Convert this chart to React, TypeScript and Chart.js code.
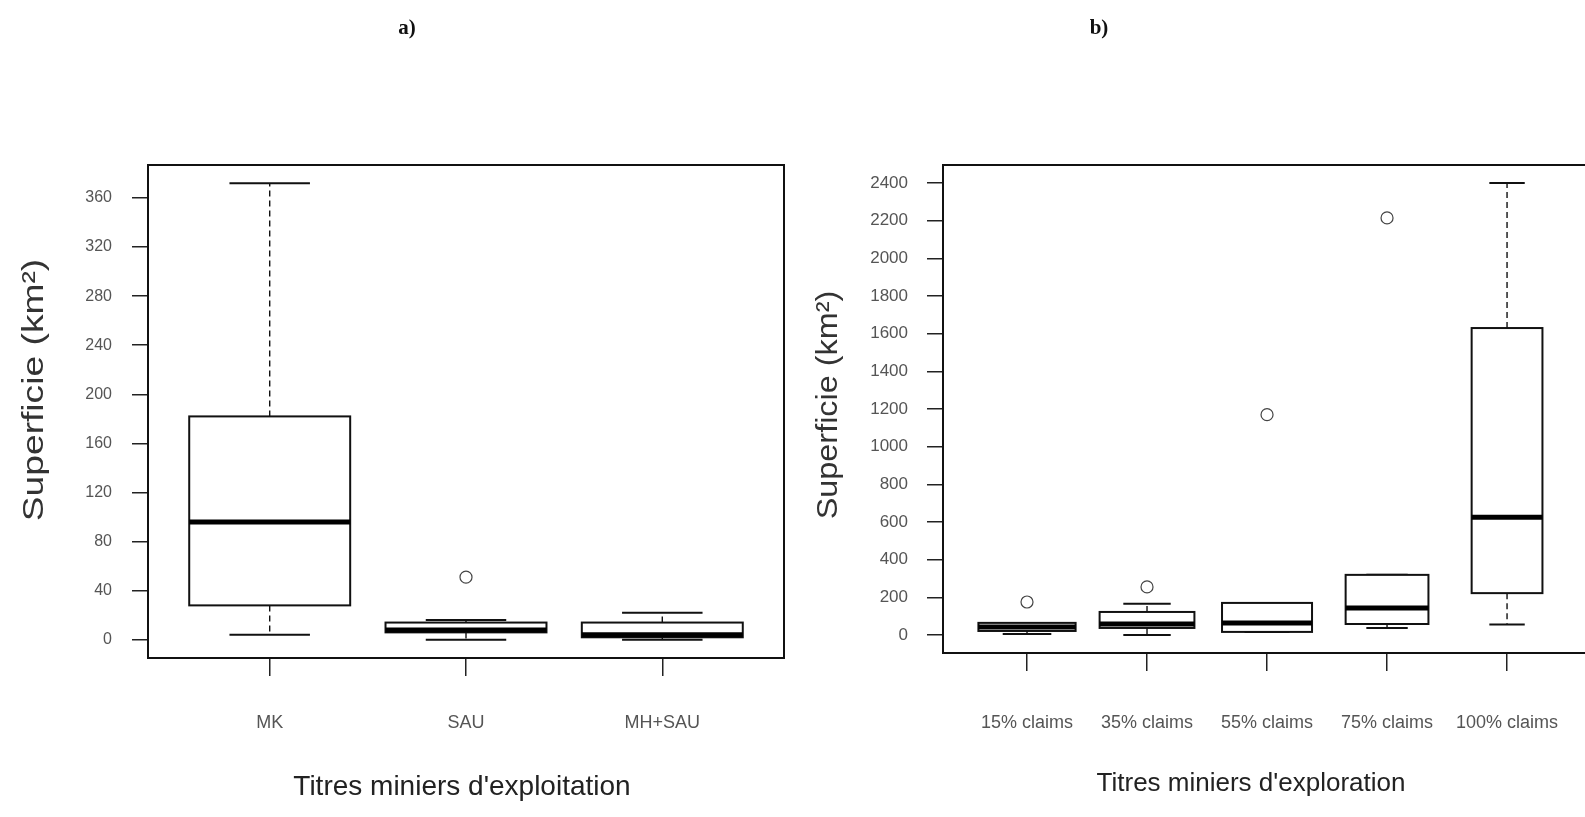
import React, { useEffect, useRef } from 'react';
import { Chart, registerables } from 'chart.js';

Chart.register(...registerables);

// ---------- Panel a) : Titres miniers d'exploitation ----------
const catsA = ['MK', 'SAU', 'MH+SAU'];
const lowA = [4, 0, 0];
const q1A = [28, 6, 2];
const medA = [96, 8, 4];
const q3A = [182, 14, 14];
const highA = [372, 16, 22];
const outliersA = [[], [51], []];
const ticksA = [0, 40, 80, 120, 160, 200, 240, 280, 320, 360];

// ---------- Panel b) : Titres miniers d'exploration ----------
const catsB = ['15% claims', '35% claims', '55% claims', '75% claims', '100% claims'];
const lowB = [5, 0, 16, 37, 55];
const q1B = [21, 37, 16, 58, 222];
const medB = [42, 58, 64, 143, 625];
const q3B = [64, 122, 170, 319, 1630];
const highB = [64, 165, 170, 319, 2400];
const outliersB = [[175], [255], [1170], [2215], []];
const ticksB = [0, 200, 400, 600, 800, 1000, 1200, 1400, 1600, 1800, 2000, 2200, 2400];

// relative box widths (style, in category units)
const boxWidthA = [0.82, 0.82, 0.82];
const boxWidthB = [0.81, 0.79, 0.75, 0.69, 0.59];

const FONT = "'Liberation Sans', Arial, sans-serif";
const Y_TITLE = 'Superficie (km²)';

type Panel = {
  cats: string[];
  low: number[];
  q1: number[];
  med: number[];
  q3: number[];
  high: number[];
  outliers: number[][];
  ticks: number[];
  widths: number[];
  xTitle: string;
  xTitleSize: number;
  xTitlePos: [number, number];
  yTitlePos: [number, number];
  yTitleStretch: number;
  yTickSize: number;
  yAxisWidth: number;
  xAxisHeight: number;
  padRight: number;
  yTickPad: number;
  xTickPad: number;
};

function makeConfig(p: Panel): any {
  const n = p.cats.length;
  const xMin = 0.5 - 0.04 * n;
  const xMax = n + 0.5 + 0.04 * n;
  const all = [...p.low, ...p.high, ...p.outliers.flat()];
  const dMin = Math.min(...all);
  const dMax = Math.max(...all);
  const ext = (dMax - dMin) * 0.04;

  const boxPlugin = {
    id: 'rbox',
    beforeDatasetsDraw(chart: any) {
      const { ctx } = chart;
      const x = chart.scales.x;
      const y = chart.scales.y;
      ctx.save();
      for (let i = 0; i < n; i++) {
        const cx = x.getPixelForValue(i + 1);
        const half = x.getPixelForValue(i + 1 + p.widths[i] / 2) - cx;
        const yLo = y.getPixelForValue(p.low[i]);
        const yQ1 = y.getPixelForValue(p.q1[i]);
        const yMed = y.getPixelForValue(p.med[i]);
        const yQ3 = y.getPixelForValue(p.q3[i]);
        const yHi = y.getPixelForValue(p.high[i]);
        ctx.strokeStyle = '#111';
        ctx.setLineDash([6, 4]);
        ctx.lineWidth = 1.4;
        ctx.beginPath();
        ctx.moveTo(cx, yQ3);
        ctx.lineTo(cx, yHi);
        ctx.moveTo(cx, yQ1);
        ctx.lineTo(cx, yLo);
        ctx.stroke();
        ctx.setLineDash([]);
        ctx.lineWidth = 2;
        ctx.beginPath();
        ctx.moveTo(cx - half / 2, yHi);
        ctx.lineTo(cx + half / 2, yHi);
        ctx.moveTo(cx - half / 2, yLo);
        ctx.lineTo(cx + half / 2, yLo);
        ctx.stroke();
        ctx.fillStyle = '#fff';
        ctx.fillRect(cx - half, yQ3, 2 * half, yQ1 - yQ3);
        ctx.lineWidth = 2;
        ctx.strokeRect(cx - half, yQ3, 2 * half, yQ1 - yQ3);
        ctx.lineWidth = 5;
        ctx.strokeStyle = '#000';
        ctx.beginPath();
        ctx.moveTo(cx - half, yMed);
        ctx.lineTo(cx + half, yMed);
        ctx.stroke();
      }
      ctx.restore();
    },
  };

  const framePlugin = {
    id: 'rframe',
    afterDraw(chart: any) {
      const { ctx, chartArea: a } = chart;
      ctx.save();
      ctx.strokeStyle = '#111';
      ctx.lineWidth = 2;
      ctx.strokeRect(a.left, a.top, a.right - a.left, a.bottom - a.top);
      ctx.fillStyle = '#333';
      ctx.textAlign = 'center';
      ctx.textBaseline = 'middle';
      ctx.save();
      ctx.translate(p.yTitlePos[0], p.yTitlePos[1]);
      ctx.rotate(-Math.PI / 2);
      ctx.scale(p.yTitleStretch, 1);
      ctx.font = `30px ${FONT}`;
      ctx.fillText(Y_TITLE, 0, 0);
      ctx.restore();
      ctx.fillStyle = '#222';
      ctx.font = `${p.xTitleSize}px ${FONT}`;
      ctx.fillText(p.xTitle, p.xTitlePos[0], p.xTitlePos[1]);
      ctx.restore();
    },
  };

  const points: { x: number; y: number }[] = [];
  p.outliers.forEach((arr, i) => arr.forEach((v) => points.push({ x: i + 1, y: v })));

  return {
    type: 'scatter',
    data: {
      datasets: [
        {
          data: points,
          pointRadius: 6,
          pointBorderWidth: 1.2,
          pointBorderColor: '#444',
          pointBackgroundColor: 'rgba(0,0,0,0)',
          showLine: false,
        },
      ],
    },
    plugins: [boxPlugin, framePlugin],
    options: {
      responsive: false,
      animation: false,
      events: [],
      layout: { padding: { top: 165, right: p.padRight, left: 0, bottom: 0 } },
      plugins: { legend: { display: false }, tooltip: { enabled: false }, title: { display: false } },
      scales: {
        x: {
          type: 'linear',
          min: xMin,
          max: xMax,
          afterBuildTicks: (s: any) => {
            s.ticks = p.cats.map((_, i) => ({ value: i + 1 }));
          },
          afterFit: (s: any) => {
            s.height = p.xAxisHeight;
          },
          border: { display: false },
          grid: { drawOnChartArea: false, drawTicks: true, tickLength: 18, color: '#222', lineWidth: 1.5 },
          ticks: {
            autoSkip: false,
            maxRotation: 0,
            padding: p.xTickPad,
            color: '#555',
            font: { family: FONT, size: 18 },
            callback: (v: any) => p.cats[Math.round(Number(v)) - 1] ?? '',
          },
          title: { display: false },
        },
        y: {
          type: 'linear',
          min: dMin - ext,
          max: dMax + ext,
          afterBuildTicks: (s: any) => {
            s.ticks = p.ticks.map((v) => ({ value: v }));
          },
          afterFit: (s: any) => {
            s.width = p.yAxisWidth;
          },
          border: { display: false },
          grid: { drawOnChartArea: false, drawTicks: true, tickLength: 16, color: '#222', lineWidth: 1.5 },
          ticks: {
            padding: p.yTickPad,
            color: '#555',
            font: { family: FONT, size: p.yTickSize },
            callback: (v: any) => String(v),
          },
          title: { display: false },
        },
      },
    },
  };
}

const panelA: Panel = {
  cats: catsA, low: lowA, q1: q1A, med: medA, q3: q3A, high: highA, outliers: outliersA, ticks: ticksA,
  widths: boxWidthA, xTitle: "Titres miniers d'exploitation", xTitleSize: 28,
  xTitlePos: [462, 787], yTitlePos: [35, 390], yTitleStretch: 1.24, yTickSize: 16,
  yAxisWidth: 148, xAxisHeight: 159, padRight: 16, yTickPad: 20, xTickPad: 36,
};

const panelB: Panel = {
  cats: catsB, low: lowB, q1: q1B, med: medB, q3: q3B, high: highB, outliers: outliersB, ticks: ticksB,
  widths: boxWidthB, xTitle: "Titres miniers d'exploration", xTitleSize: 26,
  xTitlePos: [451, 784], yTitlePos: [29, 405], yTitleStretch: 1.08, yTickSize: 17,
  yAxisWidth: 143, xAxisHeight: 164, padRight: 0, yTickPad: 19, xTickPad: 41,
};

function BoxChart({ panel, left }: { panel: Panel; left: number }) {
  const ref = useRef<HTMLCanvasElement | null>(null);
  useEffect(() => {
    if (!ref.current) return;
    const chart = new Chart(ref.current, makeConfig(panel));
    return () => chart.destroy();
  }, [panel]);
  return (
    <canvas
      ref={ref}
      width={800}
      height={817}
      style={{ position: 'absolute', left, top: 0, width: 800, height: 817 }}
    />
  );
}

export default function App() {
  const titleStyle: React.CSSProperties = {
    position: 'absolute',
    top: 15,
    fontFamily: "'Liberation Serif', 'Times New Roman', serif",
    fontWeight: 'bold',
    fontSize: 21,
    color: '#111',
    transform: 'translateX(-50%)',
  };
  return (
    <div style={{ position: 'fixed', left: 0, top: 0, width: 1585, height: 817, overflow: 'hidden', background: '#fff' }}>
      <BoxChart panel={panelA} left={0} />
      <BoxChart panel={panelB} left={800} />
      <div style={{ ...titleStyle, left: 407 }}>a)</div>
      <div style={{ ...titleStyle, left: 1099 }}>b)</div>
    </div>
  );
}
